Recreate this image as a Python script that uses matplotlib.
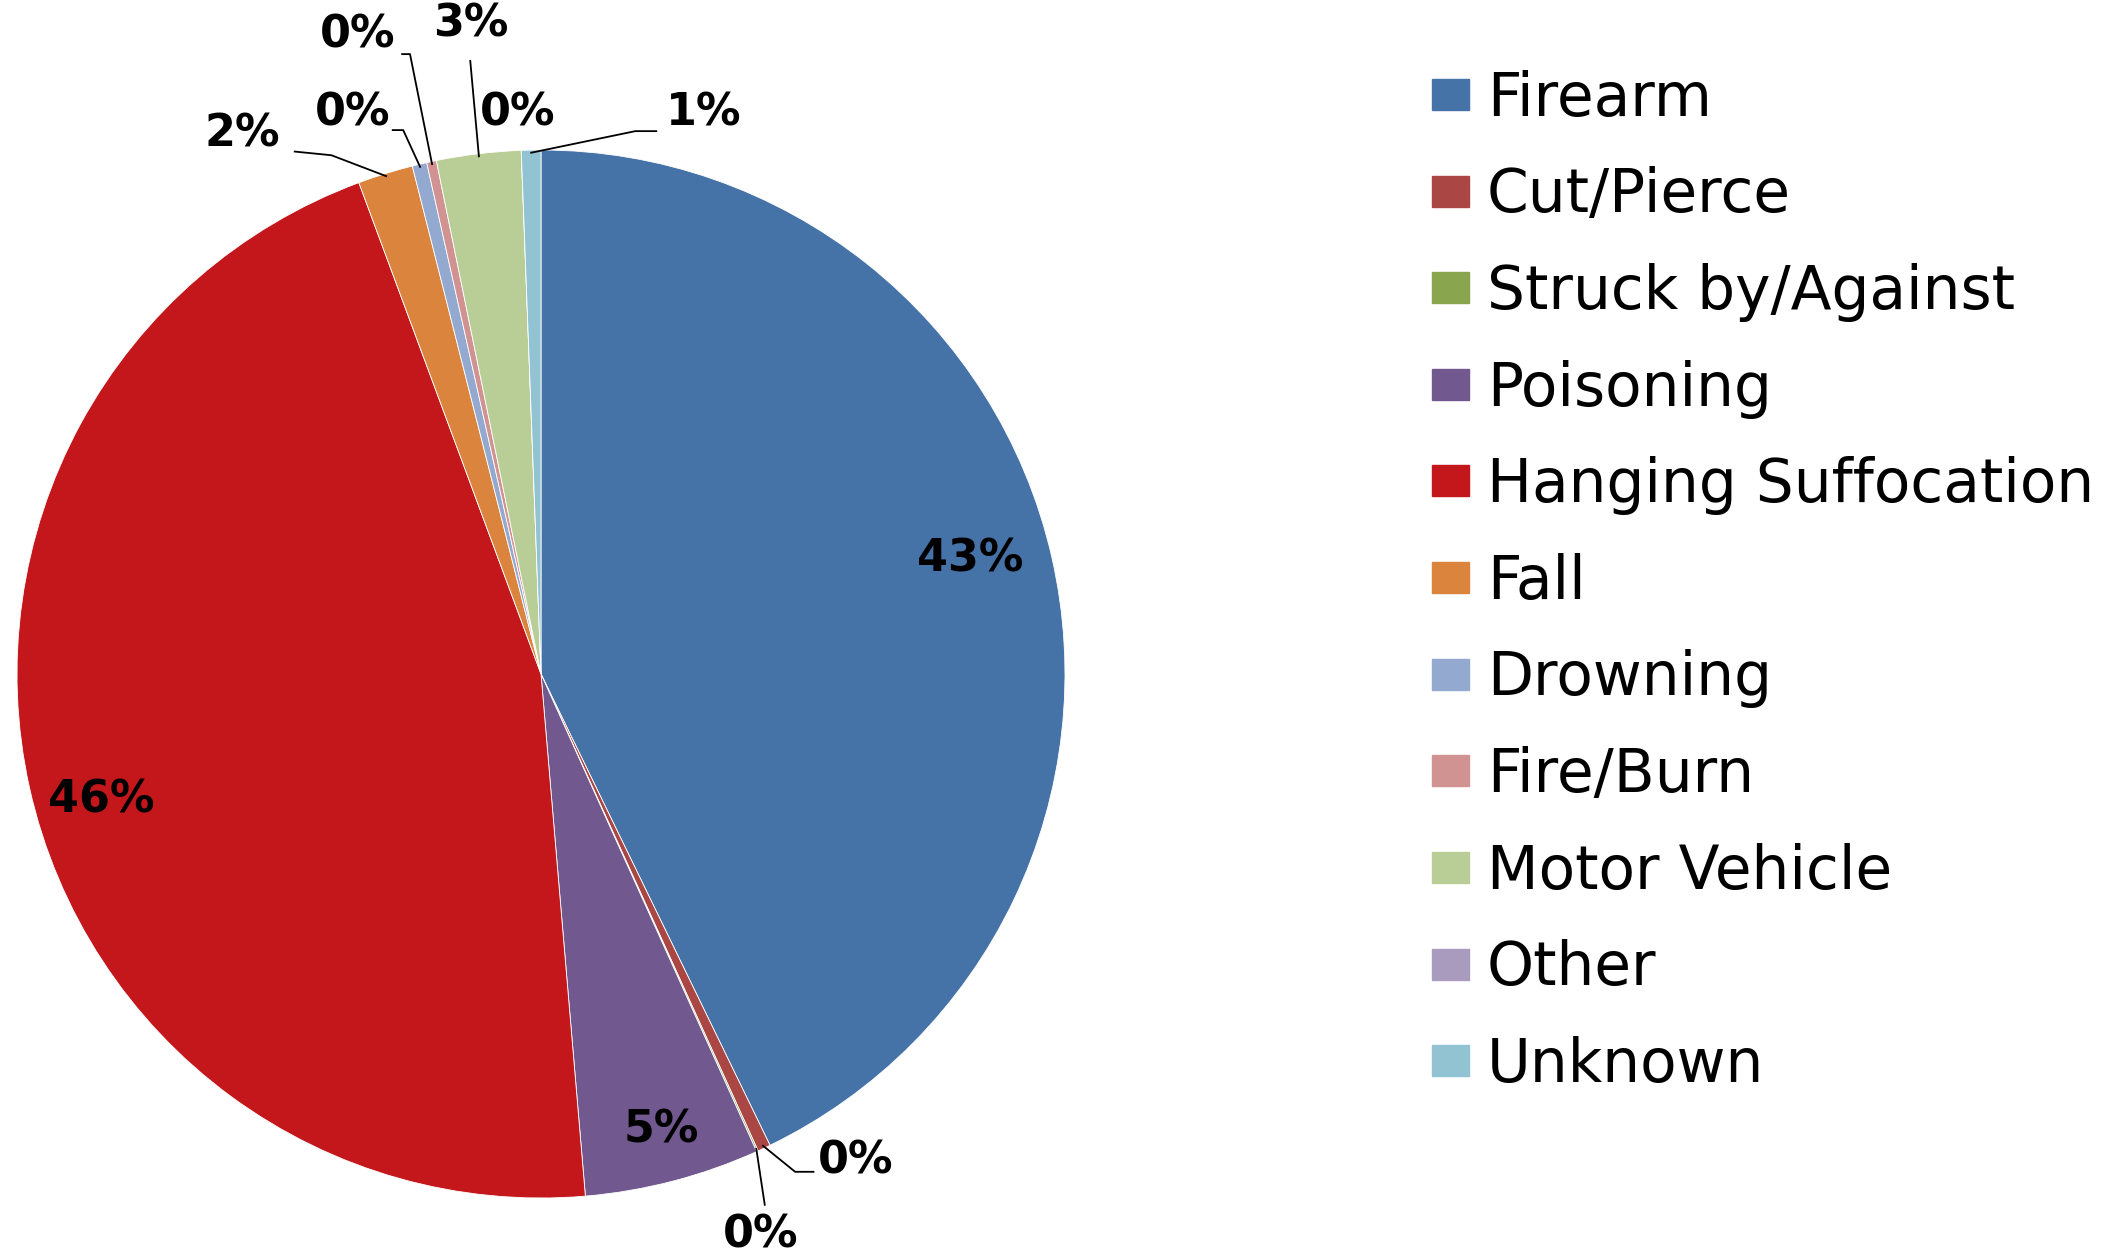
import matplotlib
matplotlib.use("Agg")
import matplotlib.pyplot as plt
import matplotlib.patches as mpatches
import numpy as np

categories = ["Firearm", "Cut/Pierce", "Struck by/Against", "Poisoning",
              "Hanging Suffocation", "Fall", "Drowning", "Fire/Burn",
              "Motor Vehicle", "Other", "Unknown"]
shares = [42.8, 0.4, 0.05, 5.4, 45.7, 1.7, 0.45, 0.3, 2.6, 0.0, 0.6]
colors = ["#4572A7", "#AA4643", "#89A54E", "#71588F", "#C4171B", "#DB843D",
          "#93A9CF", "#D19392", "#B9CD96", "#A99BBD", "#92C3D3"]

# label layout in pie data coords (radius 1), None = no leader
label_pos = [(0.82, 0.22), (0.60, -0.93), (0.42, -1.07), (0.23, -0.87),
             (-0.84, -0.24), (-0.57, 1.03), (-0.36, 1.07), (-0.35, 1.22),
             (-0.135, 1.24), (-0.045, 1.07), (0.31, 1.07)]
leaders = {1: [(0.485, -0.95), (0.52, -0.95)],
           2: [(0.427, -1.013)],
           5: [(-0.40, 0.99), (-0.47, 0.997)],
           6: [(-0.263, 1.038), (-0.283, 1.038)],
           7: [(-0.25, 1.183), (-0.265, 1.183)],
           8: [(-0.135, 1.17)],
           10: [(0.18, 1.036), (0.22, 1.036)]}

W, H = 2123, 1252
fig = plt.figure(figsize=(W / 100, H / 100), dpi=100)
cx, cy, r = 541, 674, 524
ax = fig.add_axes([(cx - r) / W, (H - cy - r) / H, 2 * r / W, 2 * r / H])

total = sum(shares)
wedges, _ = ax.pie(shares, colors=colors, startangle=90, counterclock=False,
                   radius=1, wedgeprops=dict(edgecolor="white", linewidth=0.6))
ax.set_xlim(-1, 1)
ax.set_ylim(-1, 1)
ax.set_aspect("equal")
ax.axis("off")

for i, w in enumerate(wedges):
    pct = 100 * shares[i] / total
    tx, ty = label_pos[i]
    ax.text(tx, ty, f"{pct:.0f}%", ha="center", va="center", fontsize=32,
            fontweight="bold", clip_on=False)
    if i in leaders:
        mid = np.deg2rad((w.theta1 + w.theta2) / 2)
        pts = [(0.995 * np.cos(mid), 0.995 * np.sin(mid))] + leaders[i]
        xs, ys = zip(*pts)
        ax.plot(xs, ys, color="black", lw=1.3, clip_on=False)

handles = [mpatches.Patch(color=c) for c in colors]
fig.legend(handles, categories, loc="upper left",
           bbox_to_anchor=(1378 / W, 1 - 16 / H), frameon=False,
           fontsize=43, handlelength=0.62, handleheight=0.42,
           handletextpad=0.3, labelspacing=0.63)

fig.savefig("out.png", dpi=100)
